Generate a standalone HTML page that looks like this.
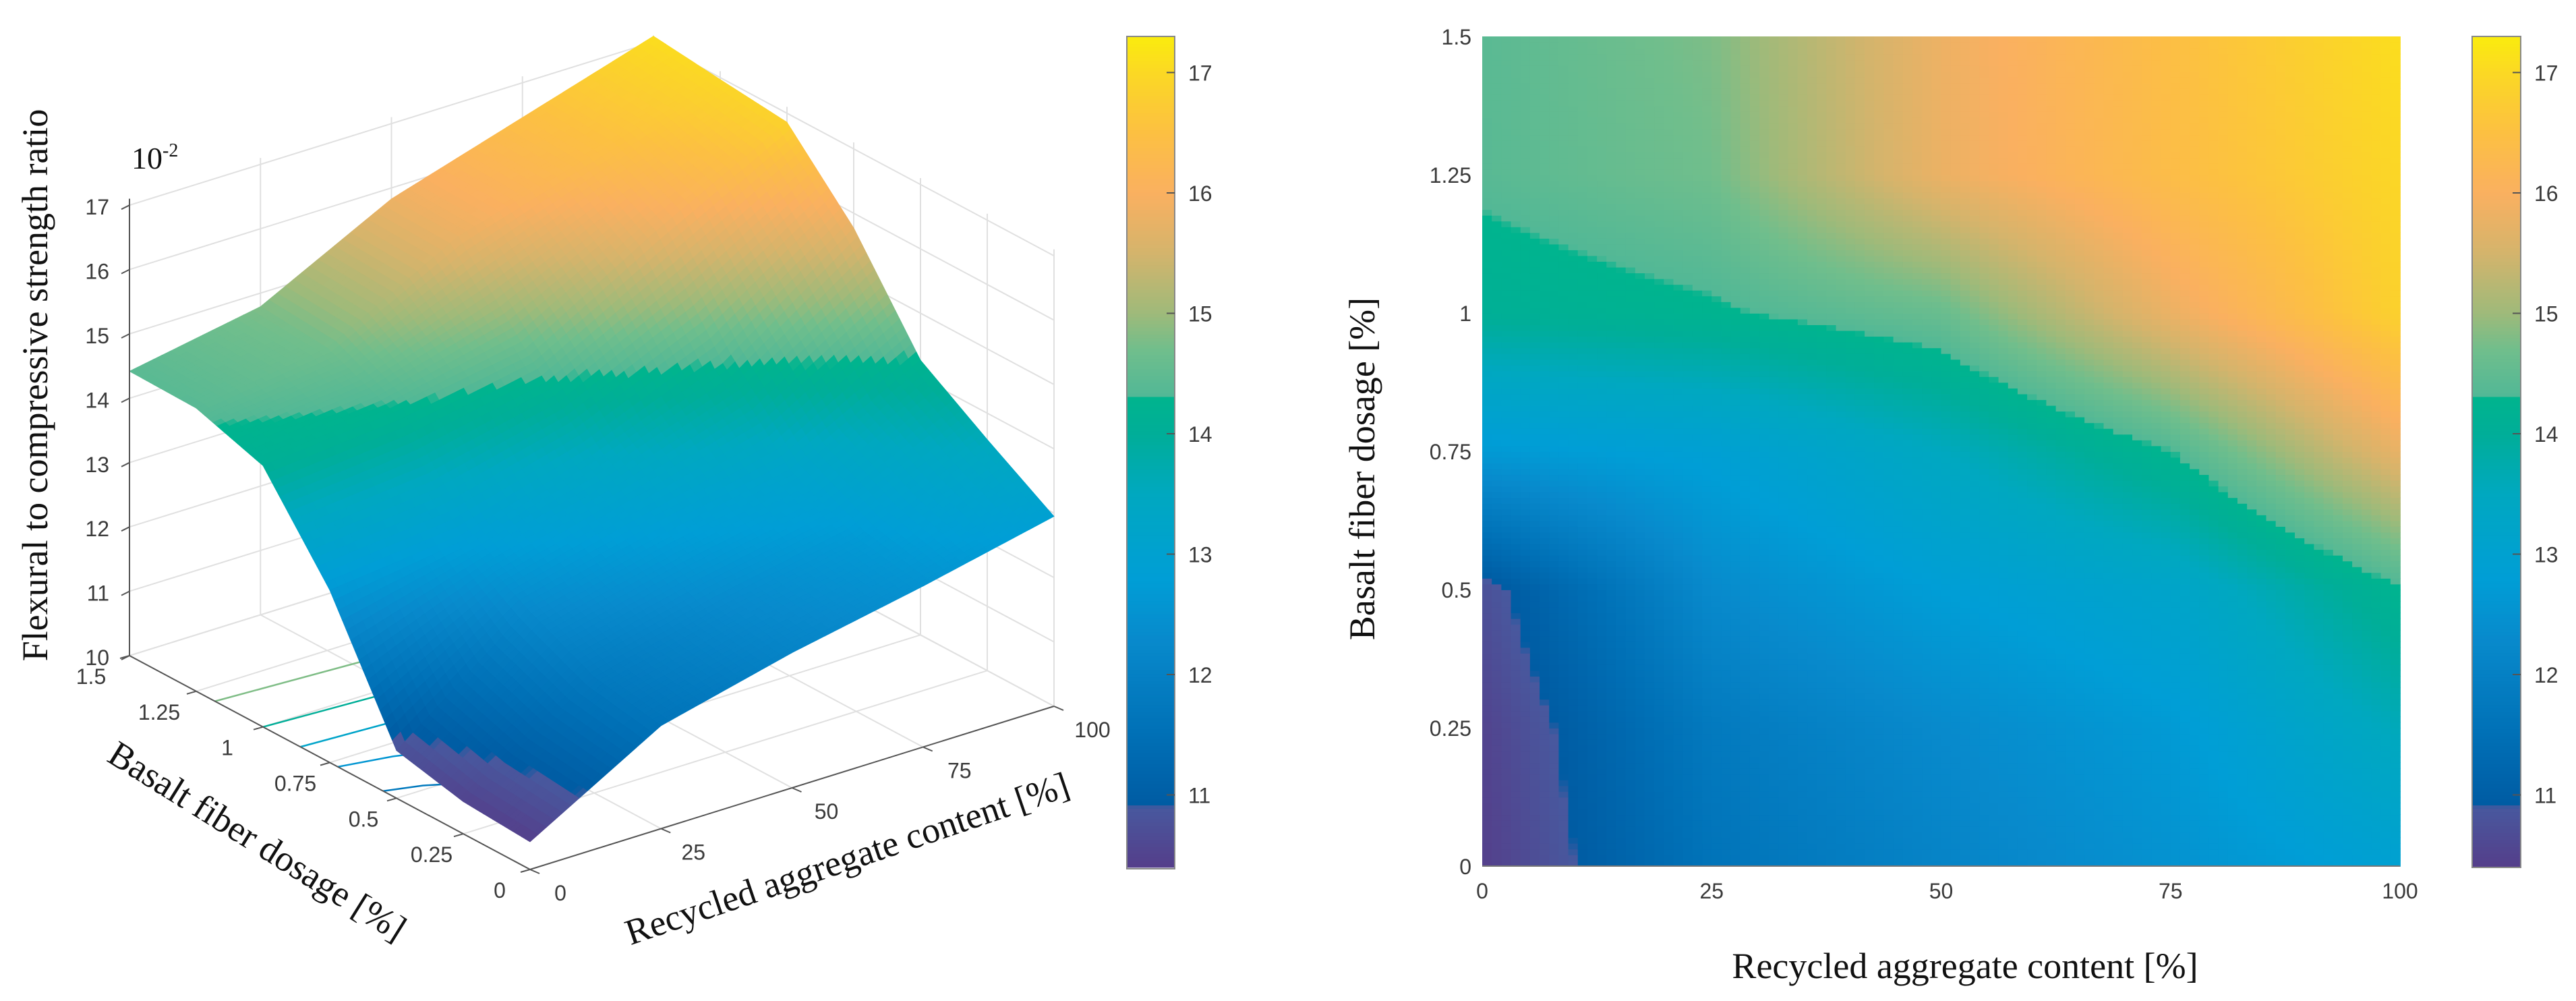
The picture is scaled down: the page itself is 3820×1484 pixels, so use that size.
<!DOCTYPE html>
<html><head><meta charset="utf-8">
<style>
html,body{margin:0;padding:0;background:#fff;}
svg{display:block;}
.tk{font-family:"Liberation Sans",Arial,sans-serif;font-size:32px;fill:#3a3a3a;}
.ttl{font-family:"Liberation Serif","Times New Roman",serif;font-size:54px;fill:#111;}
</style></head>
<body>
<svg id="fig" width="3820" height="1484" viewBox="0 0 3820 1484" xmlns="http://www.w3.org/2000/svg">
  <g id="left-plot">
    <g id="walls"></g>
    <g id="floorc"></g>
    <g id="surf"></g>
    <g id="axes3d"></g>
    <text class="ttl" transform="translate(70,571) rotate(-90)" text-anchor="middle">Flexural to compressive strength ratio</text>
    <text class="ttl" x="195" y="250" style="font-size:46px">10<tspan dy="-18" style="font-size:28px">-2</tspan></text>
    <text class="ttl" transform="translate(372,1262) rotate(32)" text-anchor="middle">Basalt fiber dosage [%]</text>
    <text class="ttl" transform="translate(1262,1290) rotate(-18.8)" text-anchor="middle">Recycled aggregate content [%]</text>
    <g id="cbL"></g>
  </g>
  <g id="right-plot">
    <g id="heat"></g>
    <g id="axes2d"></g>
    <text class="ttl" transform="translate(2038,695) rotate(-90)" text-anchor="middle">Basalt fiber dosage [%]</text>
    <text class="ttl" x="2914" y="1450" text-anchor="middle">Recycled aggregate content [%]</text>
    <g id="cbR"></g>
  </g>
</svg>
<script>
const rVals = [0, 25, 50, 75, 100];
const bVals = [0, 0.25, 0.5, 0.75, 1, 1.25, 1.5];
const zB000 = [10.43, 11.6, 12.1, 12.5, 12.95];
const zB025 = [10.5, 11.8, 12.3, 12.7, 13.59];
const zB050 = [10.74, 12.3, 12.8, 13.2, 14.27];
const zB075 = [12.68, 12.9, 13.5, 14.3, 15.77];
const zB100 = [14.06, 14.25, 14.6, 15.8, 16.86];
const zB125 = [14.4, 14.7, 15.8, 16.4, 16.97];
const zB150 = [14.42, 14.79, 15.83, 16.46, 17.09];
const zGrid = [zB000, zB025, zB050, zB075, zB100, zB125, zB150];
const xTicks = [0, 25, 50, 75, 100];
const xTickLabels = ["0", "25", "50", "75", "100"];
const yTicks = [0, 0.25, 0.5, 0.75, 1, 1.25, 1.5];
const yTickLabels = ["0", "0.25", "0.5", "0.75", "1", "1.25", "1.5"];
const zTicks = [10, 11, 12, 13, 14, 15, 16, 17];
const zTickLabels = ["10", "11", "12", "13", "14", "15", "16", "17"];
const cbTicks = [11, 12, 13, 14, 15, 16, 17];
const cbTickLabels = ["11", "12", "13", "14", "15", "16", "17"];
const floorContourLevels = [14.8, 14.0, 13.2, 12.6, 11.8];
const floorContourB = [1.18, 1.0, 0.86, 0.72, 0.55];
const floorContourREnd = [100, 100, 100, 30, 20];

const NS = "http://www.w3.org/2000/svg";
const VMIN = 10.4, VMAX = 17.3, ZTOP = 17.1;
const stops = [
 [10.4,[85,62,138]],[10.9,[72,88,158]],[10.92,[0,92,163]],[11.5,[0,112,182]],
 [12.3,[8,138,204]],[12.8,[0,158,214]],[13.5,[0,168,192]],[14.0,[0,174,152]],
 [14.3,[0,180,142]],[14.32,[82,184,150]],[14.7,[112,190,140]],[15.0,[158,186,122]],
 [15.5,[212,180,108]],[16.0,[250,176,96]],[16.5,[252,192,66]],[17.0,[251,216,36]],[17.3,[250,236,14]]];
function color(v){
  if(v<=stops[0][0]) return "rgb("+stops[0][1].join(",")+")";
  for(let i=1;i<stops.length;i++){
    if(v<=stops[i][0]){
      const a=stops[i-1],b=stops[i],t=(v-a[0])/(b[0]-a[0]);
      return "rgb("+a[1].map((c,k)=>Math.round(c+(b[1][k]-c)*t)).join(",")+")";
    }
  }
  return "rgb("+stops[stops.length-1][1].join(",")+")";
}
function el(tag, attrs, parent){
  const e=document.createElementNS(NS,tag);
  for(const k in attrs) e.setAttribute(k,attrs[k]);
  parent.appendChild(e); return e;
}
function bil(i,j,u,v){
  const z00=zGrid[j][i],z10=zGrid[j][i+1],z01=zGrid[j+1][i],z11=zGrid[j+1][i+1];
  return z00*(1-u)*(1-v)+z10*u*(1-v)+z01*(1-u)*v+z11*u*v;
}
function P(r,b,z){ return [786+7.77*r-396*b, 1289-2.42*r-211.33*b-95.4*(z-10)]; }
const walls=document.getElementById('walls');
function line3(p,q,stroke,w,parent,name){
  const a=P(...p), c=P(...q);
  const l=el('line',{x1:a[0],y1:a[1],x2:c[0],y2:c[1],stroke:stroke,'stroke-width':w},parent);
  
  
}
const GC="#e0e0e0";
xTicks.forEach(r=>{
  line3([r,0,10],[r,1.5,10],GC,2,walls,'floor-grid-r');
  line3([r,1.5,10],[r,1.5,ZTOP],GC,2,walls,'wall-grid-r');
});
yTicks.forEach(b=>{
  line3([0,b,10],[100,b,10],GC,2,walls,'floor-grid-b');
  line3([100,b,10],[100,b,ZTOP],GC,2,walls,'wall-grid-b');
});
zTicks.forEach(z=>{
  line3([0,1.5,z],[100,1.5,z],GC,2,walls,'wall-grid-z');
  line3([100,1.5,z],[100,0,z],GC,2,walls,'wall-grid-z');
});
const fc=document.getElementById('floorc');
floorContourLevels.forEach((lv,k)=>{
  const b=floorContourB[k], re=floorContourREnd[k];
  const pts=[[0,b],[re*0.3,b-0.03],[re*0.6,b-0.08],[re,b-0.12]].map(p=>P(p[0],p[1],10).join(",")).join(" ");
  const pl=el('polyline',{points:pts,fill:'none',stroke:color(lv),'stroke-width':2.5},fc);
  
  
});
const surf=document.getElementById('surf');
const S=16, quads=[];
for(let j=0;j<bVals.length-1;j++) for(let i=0;i<rVals.length-1;i++)
 for(let sv=0;sv<S;sv++) for(let su=0;su<S;su++){
  const u0=su/S,u1=(su+1)/S,v0=sv/S,v1=(sv+1)/S;
  const rr=u=>rVals[i]+(rVals[i+1]-rVals[i])*u, bb=v=>bVals[j]+(bVals[j+1]-bVals[j])*v;
  const c=[[u0,v0],[u1,v0],[u1,v1],[u0,v1]].map(([u,v])=>P(rr(u),bb(v),bil(i,j,u,v)));
  const zm=bil(i,j,(u0+u1)/2,(v0+v1)/2);
  const key=rr((u0+u1)/2)/100+bb((v0+v1)/2)/1.5;
  quads.push({c,zm,key});
 }
quads.sort((a,b)=>b.key-a.key);
quads.forEach(q=>{
  const col=color(q.zm);
  const pg=el('polygon',{points:q.c.map(p=>p.join(",")).join(" "),fill:col,stroke:col,'stroke-width':0.8},surf);
  
  
});
const ax3=document.getElementById('axes3d');
const AC="#555";
line3([0,1.5,10],[0,1.5,ZTOP],AC,2,ax3,'z-axis-line');
line3([0,0,10],[0,1.5,10],AC,2,ax3,'basalt-axis-line');
line3([0,0,10],[100,0,10],AC,2,ax3,'recycled-axis-line');
zTicks.forEach((z,k)=>{
  const p=P(0,1.5,z);
  const t=el('line',{x1:p[0],y1:p[1],x2:p[0]-12,y2:p[1]+6,stroke:AC,'stroke-width':2},ax3);
   
  const tx=el('text',{x:p[0]-30,y:p[1]+14,'text-anchor':'end',class:'tk'},ax3);
  tx.textContent=zTickLabels[k];
   
});
yTicks.forEach((b,k)=>{
  const p=P(0,b,10);
  const t=el('line',{x1:p[0],y1:p[1],x2:p[0]-14,y2:p[1]+4,stroke:AC,'stroke-width':2},ax3);
   
  const tx=el('text',{x:p[0]-45-8*b,y:p[1]+42,'text-anchor':'middle',class:'tk'},ax3);
  tx.textContent=yTickLabels[k];
   
});
xTicks.forEach((r,k)=>{
  const p=P(r,0,10);
  const t=el('line',{x1:p[0],y1:p[1],x2:p[0]+14,y2:p[1]+6,stroke:AC,'stroke-width':2},ax3);
   
  const tx=el('text',{x:p[0]+45+0.12*r,y:p[1]+46,'text-anchor':'middle',class:'tk'},ax3);
  tx.textContent=xTickLabels[k];
   
});
function colorbar(gid,x0,x1,yTop,yBot){
  const g=document.getElementById(gid);
  const N=240, ys=v=>107.5+(17-v)*178.5;
  for(let n=0;n<N;n++){
    const v0=VMIN+(VMAX-VMIN)*n/N, v1=VMIN+(VMAX-VMIN)*(n+1)/N;
    const ya=Math.min(ys(v1),yBot), yb=Math.max(ys(v0),yTop);
    const rc=el('rect',{x:x0,y:ya,width:x1-x0,height:Math.max(0,yb-ya)+0.8,fill:color((v0+v1)/2)},g);
     
  }
  const fr=el('rect',{x:x0,y:yTop,width:x1-x0,height:yBot-yTop,fill:'none',stroke:'#888','stroke-width':2},g);
   
  cbTicks.forEach((v,k)=>{
    const y=ys(v);
    const t=el('line',{x1:x1-12,y1:y,x2:x1,y2:y,stroke:'#555','stroke-width':2},g);
     
    const tx=el('text',{x:x1+20,y:y+12,class:'tk'},g);
    tx.textContent=cbTickLabels[k];
     
  });
}
colorbar('cbL',1671,1742,54,1288);
colorbar('cbR',3666,3738,54,1286);
const X0=2198,X1=3559,YT=54,YB=1284;
const xs=r=>X0+(r/100)*(X1-X0), ysc=b=>YB-(b/1.5)*(YB-YT);
const heat=document.getElementById('heat');
const H=24;
for(let j=0;j<bVals.length-1;j++) for(let i=0;i<rVals.length-1;i++)
 for(let sv=0;sv<H;sv++) for(let su=0;su<H;su++){
  const ra=rVals[i]+(rVals[i+1]-rVals[i])*su/H, rb=rVals[i]+(rVals[i+1]-rVals[i])*(su+1)/H;
  const ba=bVals[j]+(bVals[j+1]-bVals[j])*sv/H, bt=bVals[j]+(bVals[j+1]-bVals[j])*(sv+1)/H;
  const v=bil(i,j,(su+0.5)/H,(sv+0.5)/H);
  const rc=el('rect',{x:xs(ra),y:ysc(bt),width:xs(rb)-xs(ra)+0.9,height:ysc(ba)-ysc(bt)+0.9,fill:color(v)},heat);
   
 }
const ax2=document.getElementById('axes2d');
const bl=el('line',{x1:X0,y1:YB,x2:X1,y2:YB,stroke:'#777','stroke-width':2},ax2);
 
xTicks.forEach((r,k)=>{
  const tx=el('text',{x:xs(r),y:YB+48,'text-anchor':'middle',class:'tk'},ax2);
  tx.textContent=xTickLabels[k];
   
});
yTicks.forEach((b,k)=>{
  const tx=el('text',{x:X0-16,y:ysc(b)+12,'text-anchor':'end',class:'tk'},ax2);
  tx.textContent=yTickLabels[k];
   
});
</script>
</body></html>
